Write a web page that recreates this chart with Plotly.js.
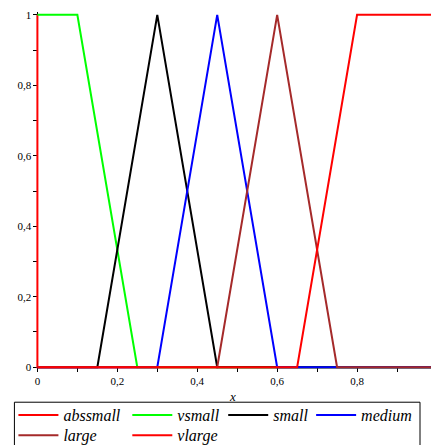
<!DOCTYPE html>
<html>
<head>
<meta charset="utf-8">
<script src="https://cdn.plot.ly/plotly-3.0.1.min.js"></script>
<style>html,body{margin:0;padding:0;background:#fff;}#chart{width:431px;height:445px;}</style>
</head>
<body>
<div id="chart"></div>
<script>
// Membership functions (breakpoints)
var names = ['abssmall', 'vsmall', 'small', 'medium', 'large', 'vlarge'];
var abssmallX = [0, 0, 1];
var abssmallY = [1, 0, 0];
var vsmallX = [0, 0.1, 0.25, 1];
var vsmallY = [1, 1, 0, 0];
var smallX = [0, 0.15, 0.3, 0.45, 1];
var smallY = [0, 0, 1, 0, 0];
var mediumX = [0, 0.3, 0.45, 0.6, 1];
var mediumY = [0, 0, 1, 0, 0];
var largeX = [0, 0.45, 0.6, 0.75, 1];
var largeY = [0, 0, 1, 0, 0];
var vlargeX = [0, 0.65, 0.8, 1];
var vlargeY = [0, 0, 1, 1];
var colors = ['#ff0000', '#00ff00', '#000000', '#0000ff', '#a52a2a', '#ff0000'];
var legendIds = ['legend', 'legend2', 'legend3', 'legend4', 'legend5', 'legend6'];

var xs = [abssmallX, vsmallX, smallX, mediumX, largeX, vlargeX];
var ys = [abssmallY, vsmallY, smallY, mediumY, largeY, vlargeY];

var traces = names.map(function (n, i) {
  return {
    x: xs[i], y: ys[i], name: n, type: 'scatter', mode: 'lines',
    line: {color: colors[i], width: 2},
    cliponaxis: false,
    legend: legendIds[i]
  };
});

var W = 431, H = 445;
// pixel geometry of the data frame
var X0 = 37, X1 = 437;   // x=0 and x=1
var Y0 = 367, Y1 = 15;   // y=0 and y=1
var padX = 0.006, padY = 0.008;
var xmin = -padX, xmax = (W - X0) / (X1 - X0);
var ymin = -padY, ymax = 1 + padY;
var sx = (X1 - X0), sy = (Y0 - Y1);
var L = X0 - padX * sx, R = 0;
var T = Y1 - padY * sy, B = H - (Y0 + padY * sy);
var pw = W - L - R, ph = H - T - B;
function px2x(p) { return (p - L) / pw; }
function py2y(p) { return (H - B - p) / ph; }

var legFont = {family: 'Liberation Serif', size: 16, style: 'italic', color: '#000'};
function leg(pxLeft, pxTop) {
  return {x: px2x(pxLeft), y: py2y(pxTop), xanchor: 'left', yanchor: 'top',
          orientation: 'v', font: legFont, bgcolor: 'rgba(0,0,0,0)',
          itemwidth: 40, tracegroupgap: 0, traceorder: 'normal'};
}

var layout = {
  width: W, height: H,
  margin: {l: L, r: R, t: T, b: B, pad: 0, autoexpand: false},
  paper_bgcolor: '#fff', plot_bgcolor: '#fff',
  separators: ',.',
  showlegend: true,
  font: {family: 'Liberation Serif', size: 11, color: '#000'},
  xaxis: {
    range: [xmin, xmax], dtick: 0.2, tick0: 0,
    anchor: 'free', position: (0 - ymin) / (ymax - ymin),
    showgrid: false, zeroline: false, showline: true, linecolor: '#000', linewidth: 1,
    ticks: 'outside', ticklen: 4, tickcolor: '#000', tickwidth: 1,
    minor: {dtick: 0.1, ticks: 'outside', ticklen: 4, tickcolor: '#000', tickwidth: 1, showgrid: false},
    tickfont: {family: 'Liberation Serif', size: 11},
    title: {text: 'x', font: {family: 'Liberation Serif', size: 13, style: 'italic'}, standoff: 5},
    layer: 'below traces',
    fixedrange: true
  },
  yaxis: {
    range: [ymin, ymax], dtick: 0.2, tick0: 0,
    anchor: 'free', position: (0 - xmin) / (xmax - xmin),
    showgrid: false, zeroline: false, showline: true, linecolor: '#000', linewidth: 1,
    ticks: 'outside', ticklen: 4, tickcolor: '#000', tickwidth: 1,
    minor: {dtick: 0.1, ticks: 'outside', ticklen: 4, tickcolor: '#000', tickwidth: 1, showgrid: false},
    tickfont: {family: 'Liberation Serif', size: 11},
    layer: 'below traces',
    fixedrange: true
  },
  legend: leg(13, 398),
  legend2: leg(127, 398),
  legend3: leg(223, 398),
  legend4: leg(311, 398),
  legend5: leg(13, 418),
  legend6: leg(127, 418),
  shapes: [{
    type: 'rect', xref: 'paper', yref: 'paper',
    x0: px2x(14), x1: px2x(420), y0: py2y(402), y1: py2y(447),
    line: {color: '#000', width: 1}, fillcolor: 'rgba(0,0,0,0)'
  }]
};

Plotly.newPlot('chart', traces, layout, {displayModeBar: false, staticPlot: true});
</script>
</body>
</html>
